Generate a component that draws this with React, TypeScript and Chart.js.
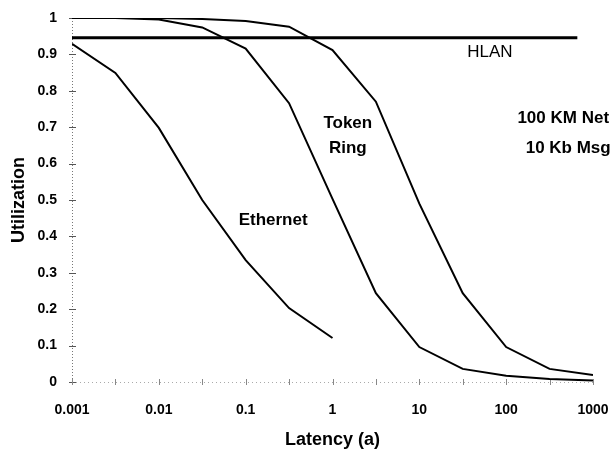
import React, { useEffect, useRef } from "react";
import { Chart, registerables } from "chart.js";

Chart.register(...registerables);

// Latency values (x, log scale)
const latency = [0.001, 0.00316, 0.01, 0.0316, 0.1, 0.316, 1, 3.16, 10, 31.6, 100, 316, 1000];
// Utilization series
const ethernet = [0.929, 0.849, 0.698, 0.5, 0.335, 0.203, 0.121];
const tokenRing = [1.0, 1.0, 0.996, 0.974, 0.916, 0.766, 0.503, 0.244, 0.096, 0.036, 0.017, 0.008, 0.004];
const fastRing = [1.0, 1.0, 1.0, 0.997, 0.992, 0.976, 0.912, 0.77, 0.49, 0.244, 0.096, 0.036, 0.019];
const hlanLatency = [0.001, 660];
const hlan = [0.946, 0.946];

const xTickValues = [0.001, 0.01, 0.1, 1, 10, 100, 1000];
const yTickValues = [0, 0.1, 0.2, 0.3, 0.4, 0.5, 0.6, 0.7, 0.8, 0.9, 1];

// Text annotations placed in data coordinates
const noteTexts = ["HLAN", "Token", "Ring", "100 KM Net", "10 Kb Msg", "Ethernet"];
const noteX = [65, 1.5, 1.5, 454, 518, 0.207];
const noteY = [0.907, 0.712, 0.643, 0.725, 0.643, 0.445];
const noteBold = [false, true, true, true, true, true];

const FONT = "'Liberation Sans', Arial, Helvetica, sans-serif";

const toPts = (xs: number[], ys: number[]) => ys.map((y, i) => ({ x: xs[i], y }));

const axisPlugin = {
  id: "axisCrosses",
  beforeDatasetsDraw(chart: any) {
    const { ctx, chartArea, scales } = chart;
    const xs = scales.x;
    const ys = scales.y;
    ctx.save();
    ctx.strokeStyle = "#777";
    ctx.lineWidth = 1;
    ctx.setLineDash([1, 2]);
    ctx.beginPath();
    ctx.moveTo(chartArea.left + 0.5, chartArea.top);
    ctx.lineTo(chartArea.left + 0.5, chartArea.bottom);
    ctx.stroke();
    ctx.strokeStyle = "#aaa";
    ctx.setLineDash([1, 3]);
    ctx.beginPath();
    ctx.moveTo(chartArea.left, chartArea.bottom + 0.5);
    ctx.lineTo(chartArea.right, chartArea.bottom + 0.5);
    ctx.stroke();
    ctx.setLineDash([]);
    ctx.strokeStyle = "#555";
    yTickValues.forEach((v) => {
      const py = Math.round(ys.getPixelForValue(v)) + 0.5;
      ctx.beginPath();
      ctx.moveTo(chartArea.left - 3, py);
      ctx.lineTo(chartArea.left + 4, py);
      ctx.stroke();
    });
    ctx.strokeStyle = "#888";
    latency.forEach((v) => {
      const px = Math.round(xs.getPixelForValue(v)) + 0.5;
      ctx.beginPath();
      ctx.moveTo(px, chartArea.bottom - 3);
      ctx.lineTo(px, chartArea.bottom + 3);
      ctx.stroke();
    });
    ctx.restore();
  },
};

const notesPlugin = {
  id: "notes",
  afterDatasetsDraw(chart: any) {
    const { ctx, scales } = chart;
    ctx.save();
    ctx.fillStyle = "#000";
    ctx.textAlign = "center";
    ctx.textBaseline = "middle";
    noteTexts.forEach((t, i) => {
      ctx.font = `${noteBold[i] ? "bold " : ""}17px ${FONT}`;
      ctx.fillText(t, scales.x.getPixelForValue(noteX[i]), scales.y.getPixelForValue(noteY[i]));
    });
    ctx.restore();
  },
};

export default function App() {
  const ref = useRef<HTMLCanvasElement | null>(null);
  useEffect(() => {
    if (!ref.current) return;
    const line = (data: any[], width: number) => ({
      data,
      borderColor: "#000",
      backgroundColor: "#000",
      borderWidth: width,
      pointRadius: 0,
      tension: 0,
      fill: false,
    });
    const chart = new Chart(ref.current, {
      type: "line",
      data: {
        datasets: [
          { label: "HLAN", ...line(toPts(hlanLatency, hlan), 3) },
          { label: "Ethernet", ...line(toPts(latency, ethernet), 2) },
          { label: "Token Ring", ...line(toPts(latency, tokenRing), 2) },
          { label: "Ring 2", ...line(toPts(latency, fastRing), 2) },
        ],
      },
      options: {
        animation: false,
        responsive: false,
        maintainAspectRatio: false,
        layout: { padding: { left: 0, right: 20, top: 18, bottom: 0 } },
        plugins: { legend: { display: false }, tooltip: { enabled: false } },
        scales: {
          x: {
            type: "logarithmic",
            min: 0.001,
            max: 1000,
            afterBuildTicks: (s: any) => {
              s.ticks = xTickValues.map((v) => ({ value: v }));
            },
            afterFit: (s: any) => {
              s.height = 69;
              s.paddingLeft = 0;
              s.paddingRight = 0;
            },
            ticks: {
              callback: (v: any) => String(v),
              color: "#000",
              font: { family: FONT, size: 14, weight: "bold" },
              padding: 20,
              maxRotation: 0,
              autoSkip: false,
            },
            grid: { display: false, drawTicks: false },
            border: { display: false },
            title: {
              display: true,
              text: "Latency (a)",
              color: "#000",
              font: { family: FONT, size: 18, weight: "bold" },
              padding: { top: 0, bottom: 0 },
            },
          },
          y: {
            min: 0,
            max: 1,
            afterBuildTicks: (s: any) => {
              s.ticks = yTickValues.map((v) => ({ value: v }));
            },
            afterFit: (s: any) => {
              s.width = 72;
              s.paddingTop = 0;
              s.paddingBottom = 0;
            },
            ticks: {
              callback: (v: any) => String(v),
              color: "#000",
              font: { family: FONT, size: 14, weight: "bold" },
              padding: 15,
            },
            grid: { display: false, drawTicks: false },
            border: { display: false },
            title: {
              display: true,
              text: "Utilization",
              color: "#000",
              font: { family: FONT, size: 18, weight: "bold" },
              padding: { top: 8, bottom: 0 },
            },
          },
        },
      },
      plugins: [axisPlugin, notesPlugin],
    } as any);
    return () => chart.destroy();
  }, []);
  return (
    <div style={{ position: "fixed", left: 0, top: 0, width: 613, height: 451, background: "#fff" }}>
      <canvas ref={ref} width={613} height={451} style={{ display: "block" }} />
    </div>
  );
}
